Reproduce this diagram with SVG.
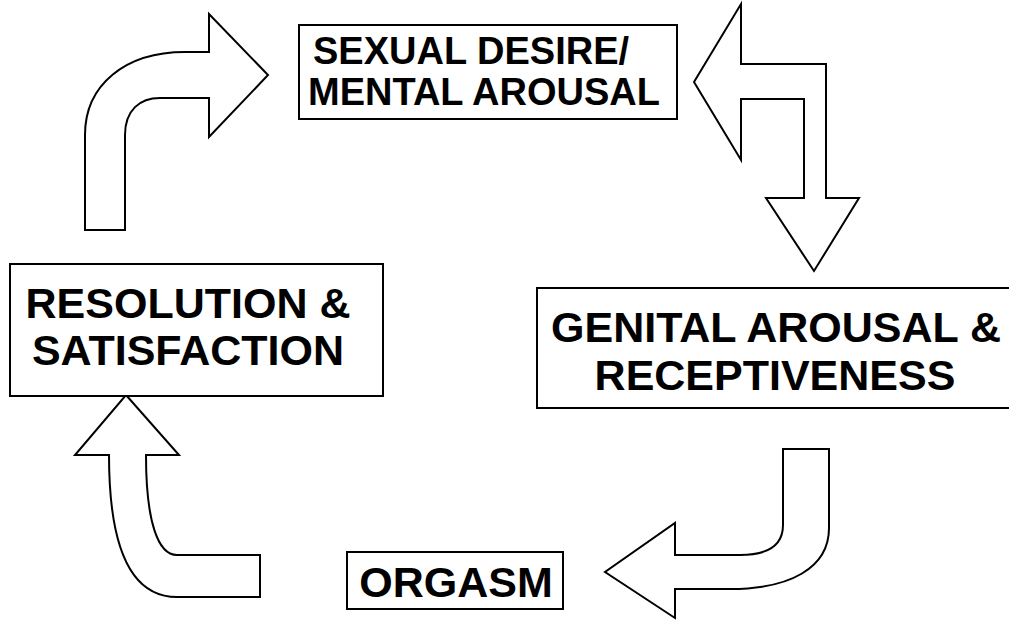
<svg xmlns="http://www.w3.org/2000/svg" width="1009" height="620" viewBox="0 0 1009 620">
<style>
.box{fill:#fff;stroke:#000;stroke-width:2}
.arr{fill:#fff;stroke:#000;stroke-width:2;stroke-linejoin:miter}
.t{font-family:"Liberation Sans",Arial,sans-serif;font-weight:bold;fill:#000;text-anchor:middle}
.big{font-size:43px}
.sm{font-size:38px}
</style>
<rect width="1009" height="620" fill="#fff"/>
<g id="connectors">
<path class="arr" d="M85,230 L85,135 C85,85 125,52 185,52 L209,52 L209,14 L268,75 L209,137 L209,98 L160,98 C140,98 125,110 125,135 L125,230 Z"/>
<path class="arr" d="M694,82 L741,4 L741,64 L826,64 L826,198 L859,198 L814,271 L766,198 L804,198 L804,99 L741,99 L741,160 Z"/>
<path class="arr" d="M783,449 L829,449 L829,528 C829,568 790,589 730,589 L675,589 L675,618 L605,572 L675,523 L675,555 L740,555 C768,555 783,545 783,525 Z"/>
<path class="arr" d="M126,395 L179,455 L146,455 C146,522 158,555 177,555 L260,555 L260,597 L177,597 C130,597 109,545 109,455 L75,455 Z"/>
</g>
<g id="node-desire">
<rect class="box" x="299" y="25" width="378" height="94"/>
<text class="t sm" x="313" y="64" style="text-anchor:start">SEXUAL DESIRE/</text>
<text class="t sm" x="484" y="105">MENTAL AROUSAL</text>
</g>
<g id="node-genital">
<rect class="box" x="537" y="288" width="490" height="120"/>
<text class="t big" x="776" y="342">GENITAL AROUSAL &amp;</text>
<text class="t big" x="775" y="390">RECEPTIVENESS</text>
</g>
<g id="node-resolution">
<rect class="box" x="10" y="264" width="373" height="132"/>
<text class="t big" x="188" y="318">RESOLUTION &amp;</text>
<text class="t big" x="188" y="365">SATISFACTION</text>
</g>
<g id="node-orgasm">
<rect class="box" x="347" y="552" width="216" height="57"/>
<text class="t big" x="456" y="597">ORGASM</text>
</g>
</svg>
